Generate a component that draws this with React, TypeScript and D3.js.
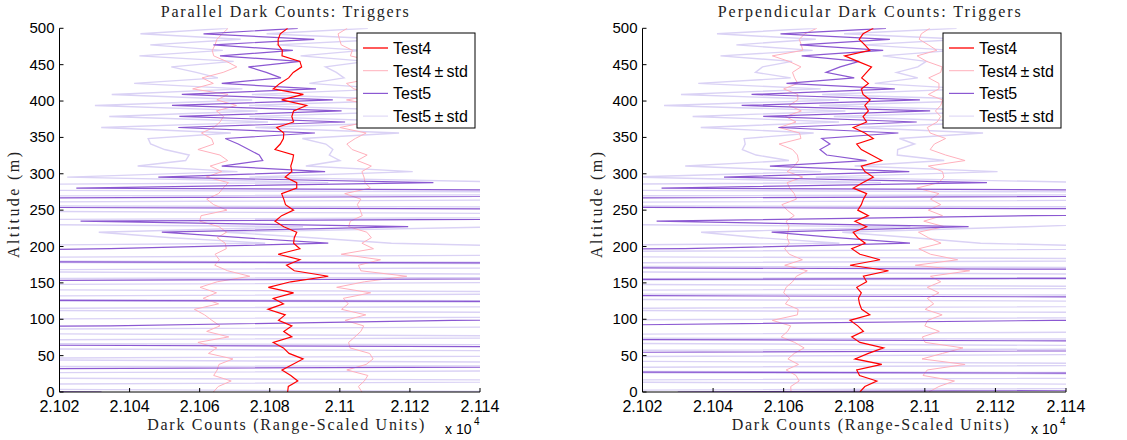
import React from "react";
import * as d3 from "d3";

// Altitude grid (m), 67 range bins from 0 to 500
const ALT: number[] = d3.range(67).map((i) => (i * 500) / 66);

const X_TICKS = [21020, 21040, 21060, 21080, 21100, 21120, 21140];
const X_TICK_LABELS = ["2.102", "2.104", "2.106", "2.108", "2.11", "2.112", "2.114"];
const Y_TICKS = [0, 50, 100, 150, 200, 250, 300, 350, 400, 450, 500];
const LEGEND = ["Test4", "Test4\u2009\u00b1\u2009std", "Test5", "Test5\u2009\u00b1\u2009std"];

// ---------- Parallel ----------
const PAR_T4_MEAN = [
  21085.1, 21085.3, 21088.0, 21086.0, 21083.5, 21086.5, 21089.5, 21085.5, 21083.9, 21081.0,
  21086.3, 21084.0, 21086.3, 21082.5, 21084.4, 21079.5, 21083.9, 21081.0, 21086.8, 21079.6,
  21086.0, 21096.7, 21087.0, 21084.8, 21088.6, 21082.4, 21088.6, 21086.8, 21087.0, 21087.7,
  21084.0, 21081.5, 21083.4, 21086.8, 21084.5, 21084.0, 21083.4, 21087.7, 21087.7, 21084.4,
  21086.3, 21086.0, 21086.5, 21086.8, 21081.5, 21083.0, 21083.9, 21084.0, 21082.0, 21086.8,
  21086.3, 21086.8, 21090.5, 21083.4, 21089.6, 21081.0, 21082.9, 21085.4, 21086.7, 21089.1,
  21088.6, 21083.5, 21083.6, 21082.4, 21082.4, 21083.0, 21085.1,
];
const PAR_T4_STD = [
  21.2, 20.0, 19.0, 22.0, 18.5, 21.0, 20.0, 23.0, 19.0, 21.5,
  18.0, 22.0, 20.5, 19.0, 23.0, 21.0, 18.5, 20.0, 22.0, 19.5,
  21.0, 22.4, 19.0, 20.5, 23.0, 18.0, 21.0, 19.5, 22.0, 20.0,
  18.5, 21.5, 23.0, 19.0, 20.5, 22.0, 18.0, 21.0, 19.5, 22.5,
  20.0, 23.0, 18.5, 21.0, 22.0, 19.0, 20.5, 23.5, 18.0, 21.0,
  19.5, 22.0, 20.0, 18.5, 21.5, 23.0, 19.0, 24.7, 20.0, 18.5,
  21.0, 19.5, 20.0, 18.0, 17.5, 16.5, 17.0,
];
const PAR_T5_MEAN = [
  21032, 20770, 20920, 20740, 20900, 21380, 21280, 21420, 21260, 20760,
  20910, 20790, 21034.5, 21132, 21400, 21270, 21440, 20780, 20920, 20740,
  20900, 21370, 21280, 21420, 20770, 20910, 21034.5, 21096.7, 21072, 21049.2,
  21119.5, 21026, 21380, 21260, 20760, 20910, 21390, 21024.8, 21126.7, 21048.2,
  21095.8, 21066.3, 21078, 21077, 21074, 21071, 21067.3, 21092.9, 21053.9, 21101.5,
  21054.2, 21100.5, 21052.1, 21098, 21054.9, 21093.2, 21066.3, 21083.2, 21079, 21073.9,
  21088.7, 21065.8, 21086.6, 21063.9, 21092.7, 21061.1, 21088,
];
const PAR_T5_STD = [
  140, 80, 300, 70, 320, 90, 330, 80, 320, 80,
  300, 70, 190, 220, 90, 330, 80, 70, 320, 80,
  300, 90, 340, 80, 70, 310, 150, 18, 20, 18,
  30, 140, 90, 330, 70, 300, 90, 200, 30, 26,
  25, 24, 22, 20, 24, 25, 22, 24, 22, 22,
  20, 24, 22, 23, 20, 21, 25, 18, 20, 22,
  19, 23, 20, 18, 21, 18, 20,
];

// ---------- Perpendicular ----------
const PERP_T4_MEAN = [
  21081.6, 21083.0, 21086.4, 21081.5, 21080.7, 21087.8, 21080.2, 21084.0, 21088.3, 21081.6,
  21079.3, 21082.6, 21081.0, 21078.8, 21084.4, 21082.1, 21081.5, 21081.2, 21082.0, 21080.7,
  21083.5, 21082.6, 21089.7, 21078.8, 21087.3, 21081.6, 21079.3, 21083.1, 21081.0, 21079.7,
  21083.5, 21080.2, 21084.0, 21081.0, 21082.0, 21082.6, 21083.5, 21079.7, 21082.5, 21085.4,
  21083.0, 21082.0, 21087.8, 21084.9, 21082.0, 21080.7, 21085.4, 21083.0, 21079.7, 21083.5,
  21082.5, 21084.0, 21083.0, 21084.5, 21082.5, 21082.0, 21084.0, 21082.1, 21083.5, 21084.9,
  21081.0, 21077.3, 21084.4, 21083.0, 21081.4, 21082.5, 21085.4,
];
const PERP_T4_STD = [
  19.5, 21.0, 22.0, 18.0, 20.0, 23.6, 19.0, 21.0, 22.5, 18.5,
  20.0, 21.5, 19.0, 22.0, 20.5, 18.0, 21.0, 19.5, 22.0, 20.0,
  21.0, 19.0, 23.0, 18.5, 22.0, 20.0, 19.0, 21.5, 20.0, 18.5,
  22.0, 19.5, 21.0, 20.0, 22.5, 19.0, 20.5, 18.0, 21.5, 20.0,
  22.0, 19.0, 23.6, 21.0, 19.5, 22.0, 20.5, 18.5, 21.0, 20.0,
  22.0, 19.0, 21.5, 20.5, 18.5, 22.0, 20.0, 19.0, 21.0, 20.0,
  19.5, 20.5, 19.0, 18.0, 17.0, 16.5, 16.0,
];
const PERP_T5_MEAN = [
  21030, 21380, 21270, 21420, 20760, 20910, 20780, 20920, 21390, 21280,
  20770, 20900, 20990, 21136.5, 21400, 21260, 21430, 21270, 20760, 20920,
  20740, 21370, 21280, 20780, 20910, 20750, 21032, 21095.8, 21075, 21056.6,
  21112.4, 21024, 21130.8, 21270, 20770, 20920, 21380, 21025.4, 21117.6, 21043.1,
  21095.6, 21056.1, 21083.5, 21072.2, 21070.3, 21073.1, 21070.8, 21092.5, 21058.5, 21097.7,
  21054.2, 21101.5, 21048.1, 21098.6, 21050.9, 21091.5, 21060.8, 21080, 21072, 21076,
  21081.4, 21065.1, 21088.2, 21064.6, 21090.1, 21059.1, 21089,
];
const PERP_T5_STD = [
  150, 90, 330, 80, 70, 310, 80, 300, 90, 330,
  70, 300, 200, 150, 90, 320, 80, 340, 70, 300,
  80, 90, 330, 70, 320, 80, 150, 20, 22, 20,
  16.5, 150, 120, 330, 70, 310, 90, 200, 30, 26,
  25, 24, 22, 20, 22, 24, 22, 24, 22, 22,
  20, 24, 22, 23, 20, 21, 25, 18, 20, 22,
  19, 23, 20, 18, 21, 18, 20,
];

const COLORS = {
  t4: "#ff0000",
  t4s: "#ffb0bc",
  t5: "#8b58d2",
  t5s: "#dad2f5",
};

const SANS = "'Liberation Sans', Arial, Helvetica, sans-serif";
const SERIF = "'Liberation Serif', 'DejaVu Serif', serif";

type PanelProps = {
  id: string;
  title: string;
  x0: number;
  x1: number;
  t4: number[];
  t4s: number[];
  t5: number[];
  t5s: number[];
};

const Y_TOP = 28.3;
const Y_BOT = 392;

function Panel({ id, title, x0, x1, t4, t4s, t5, t5s }: PanelProps) {
  const x = d3.scaleLinear().domain([21020, 21140]).range([x0, x1]);
  const y = d3.scaleLinear().domain([0, 500]).range([Y_BOT, Y_TOP]);
  const line = d3
    .line<[number, number]>()
    .x((d) => x(d[0]))
    .y((d) => y(d[1]));
  const pts = (vals: number[]) => vals.map((v, i) => [v, ALT[i]] as [number, number]);
  const minus = (m: number[], s: number[]) => m.map((v, i) => v - s[i]);
  const plus = (m: number[], s: number[]) => m.map((v, i) => v + s[i]);
  const cx = (x0 + x1) / 2;
  const lx = x1 - 123;
  const ly = 33;
  const legendColors = [COLORS.t4, COLORS.t4s, COLORS.t5, COLORS.t5s];
  const legendWidths = [1.3, 1, 1.2, 1];
  return (
    <g>
      <defs>
        <clipPath id={id}>
          <rect x={x0} y={Y_TOP} width={x1 - x0} height={Y_BOT - Y_TOP} />
        </clipPath>
      </defs>
      <g clipPath={`url(#${id})`} fill="none">
        <path d={line(pts(minus(t5, t5s))) || ""} stroke={COLORS.t5s} strokeWidth={1.4} />
        <path d={line(pts(plus(t5, t5s))) || ""} stroke={COLORS.t5s} strokeWidth={1.4} />
        <path d={line(pts(minus(t4, t4s))) || ""} stroke={COLORS.t4s} strokeWidth={1} />
        <path d={line(pts(plus(t4, t4s))) || ""} stroke={COLORS.t4s} strokeWidth={1} />
        <path d={line(pts(t5)) || ""} stroke={COLORS.t5} strokeWidth={1.2} />
        <path d={line(pts(t4)) || ""} stroke={COLORS.t4} strokeWidth={1.2} />
      </g>
      {/* axes */}
      <line x1={x0} x2={x0} y1={Y_TOP} y2={Y_BOT} stroke="#000" strokeWidth={1} />
      <line x1={x0} x2={x1} y1={Y_BOT} y2={Y_BOT} stroke="#000" strokeWidth={1} />
      {Y_TICKS.map((t) => (
        <g key={"y" + t}>
          <line x1={x0} x2={x0 + 4} y1={y(t)} y2={y(t)} stroke="#000" />
          <text
            x={x0 - 5}
            y={y(t) + 5}
            textAnchor="end"
            fontFamily={SANS}
            fontSize={15}
            fill="#000"
          >
            {t}
          </text>
        </g>
      ))}
      {X_TICKS.map((t, i) => (
        <g key={"x" + t}>
          <line x1={x(t)} x2={x(t)} y1={Y_BOT} y2={Y_BOT - 4} stroke="#000" />
          <text
            x={x(t)}
            y={Y_BOT + 20}
            textAnchor="middle"
            fontFamily={SANS}
            fontSize={16}
            fill="#000"
          >
            {X_TICK_LABELS[i]}
          </text>
        </g>
      ))}
      {/* x10^4 */}
      <text x={x1 - 35} y={434} fontFamily={SANS} fontSize={14} fill="#000">
        x 10
      </text>
      <text x={x1 - 6} y={425} fontFamily={SANS} fontSize={10} fill="#000">
        4
      </text>
      {/* title */}
      <text
        x={cx + 15}
        y={17}
        textAnchor="middle"
        fontFamily={SERIF}
        fontSize={16}
        fill="#222"
        textLength={title.length > 32 ? 303 : 248}
        lengthAdjust="spacing"
      >
        {title}
      </text>
      {/* x label */}
      <text
        x={cx + 16}
        y={430}
        textAnchor="middle"
        fontFamily={SERIF}
        fontSize={16}
        fill="#222"
        textLength={277}
        lengthAdjust="spacing"
      >
        Dark Counts (Range-Scaled Units)
      </text>
      {/* y label */}
      <text
        transform={`translate(${x0 - 41},205) rotate(-90)`}
        textAnchor="middle"
        fontFamily={SERIF}
        fontSize={16}
        fill="#222"
        textLength={106}
        lengthAdjust="spacing"
      >
        Altitude (m)
      </text>
      {/* legend */}
      <rect x={lx} y={ly} width={118} height={95} fill="#fff" stroke="#000" strokeWidth={1} />
      {LEGEND.map((name, i) => {
        const yy = ly + 15 + i * 22.7;
        return (
          <g key={name}>
            <line
              x1={lx + 6}
              x2={lx + 31}
              y1={yy}
              y2={yy}
              stroke={legendColors[i]}
              strokeWidth={legendWidths[i]}
            />
            <text x={lx + 36} y={yy + 6} fontFamily={SANS} fontSize={16} fill="#000">
              {name}
            </text>
          </g>
        );
      })}
    </g>
  );
}

export default function App() {
  return (
    <svg
      width={1127}
      height={440}
      style={{ position: "absolute", left: 0, top: 0, background: "#fff" }}
    >
      <rect x={0} y={0} width={1127} height={440} fill="#fff" />
      <Panel
        id="clipPar"
        title="Parallel Dark Counts: Triggers"
        x0={59.5}
        x1={480}
        t4={PAR_T4_MEAN}
        t4s={PAR_T4_STD}
        t5={PAR_T5_MEAN}
        t5s={PAR_T5_STD}
      />
      <Panel
        id="clipPerp"
        title="Perpendicular Dark Counts: Triggers"
        x0={642.5}
        x1={1066}
        t4={PERP_T4_MEAN}
        t4s={PERP_T4_STD}
        t5={PERP_T5_MEAN}
        t5s={PERP_T5_STD}
      />
    </svg>
  );
}
